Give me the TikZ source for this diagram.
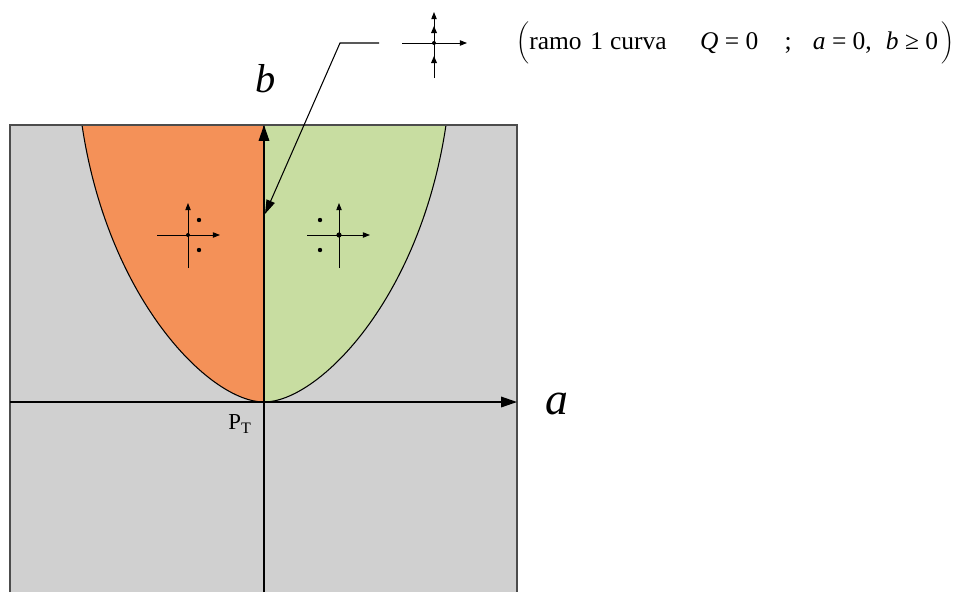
\documentclass[tikz,border=0pt]{standalone}
\usepackage{fontspec}
\setmainfont{Liberation Serif}
\usetikzlibrary{arrows.meta,calc}
\definecolor{cinza}{RGB}{208,208,208}
\definecolor{laranja}{RGB}{244,145,88}
\definecolor{verde}{RGB}{200,221,161}

\begin{document}
\begin{tikzpicture}[x=0.02cm,y=-0.02cm,
    eixo/.style={line width=0.8pt,-{Triangle[length=9pt,width=6pt]}},
    seta/.style={line width=0.5pt,-{Triangle[length=4pt,width=3pt]}},
    borda/.style={line width=0.7pt,draw=black!70},
    curvaQ/.style={line width=0.6pt},
    ponto/.style={fill=black}]
        \useasboundingbox (0,0) rectangle (966,592);

        % P_T e extremos do quadro
        \coordinate (P) at (264,402);
        \coordinate (B) at (264,125);
        \coordinate (Bb) at (264,592);
        \coordinate (Ae) at (10,402);
        \coordinate (A) at (517,402);
        \coordinate (Ql) at (82,125);
        \coordinate (Qr) at (446,125);

        % fundo cinzento e regioes (curva Q=0)
        \fill[cinza] (10,125) rectangle (517,592);
        \filldraw[curvaQ,fill=laranja] (B) -- (Ql) .. controls (108,300) and (210,402) .. (P) -- cycle;
        \filldraw[curvaQ,fill=verde] (B) -- (Qr) .. controls (420,300) and (318,402) .. (P) -- cycle;
        \draw[borda] (10,592) -- (10,125) -- (517,125) -- (517,592);

        % eixos
        \draw[eixo] (Ae) -- (A);
        \draw[eixo] (Bb) -- (B);
        \node[font=\fontsize{26}{30}\selectfont\itshape] (la) at (557,404) {a};
        \node[font=\fontsize{23}{27}\selectfont\itshape] (lb) at (266,79) {b};
        \node[font=\fontsize{13}{15}\selectfont] (lp) at (240,424) {P$_\mathrm{T}$};

        % retratos de fase nas regioes
        \coordinate (E) at (188,235);
        \coordinate (D) at (339,235);
        \draw[seta] ($(E)+(-31,0)$) -- ($(E)+(32,0)$);
        \draw[seta] ($(E)+(0,33)$) -- ($(E)+(0,-32)$);
        \fill[ponto] (E) circle (2);
        \fill[ponto] ($(E)+(11,-15)$) circle (2.2);
        \fill[ponto] ($(E)+(11,15)$) circle (2.2);

        \draw[seta] ($(D)+(-32,0)$) -- ($(D)+(31,0)$);
        \draw[seta] ($(D)+(0,33)$) -- ($(D)+(0,-32)$);
        \fill[ponto] (D) circle (2.6);
        \fill[ponto] ($(D)+(-19,-15)$) circle (2.2);
        \fill[ponto] ($(D)+(-19,15)$) circle (2.2);

        % ramo 1 (a=0, b>=0)
        \coordinate (R) at (434,43);
        \draw[seta] ($(R)+(-32,0)$) -- ($(R)+(33,0)$);
        \draw[seta] ($(R)+(0,35)$) -- ($(R)+(0,-31)$);
        \fill[ponto] (R) circle (2);
        \fill[ponto] (434,26) -- ++(-3,7) -- ++(6,0) -- cycle;
        \fill[ponto] (434,56) -- ++(-3,7) -- ++(6,0) -- cycle;

        \coordinate (L1) at (379,43);
        \coordinate (L2) at (340,43);
        \coordinate (L3) at (265,214);
        \draw[line width=0.6pt,-{Triangle[length=8pt,width=5pt]}] (L1) -- (L2) -- (L3);

        \node[font=\fontsize{14.5}{17}\selectfont,anchor=west,inner sep=0pt] (txt) at (516,43)
            {$\biggl($ramo\hspace{5pt}1\hspace{4pt}curva\hspace{19pt}\textit{Q} = 0\hspace{15pt};\hspace{12pt}\textit{a} = 0,\hspace{8pt}\textit{b} ≥ 0\hspace{2pt}$\biggr)$};
    \end{tikzpicture}
\end{document}
